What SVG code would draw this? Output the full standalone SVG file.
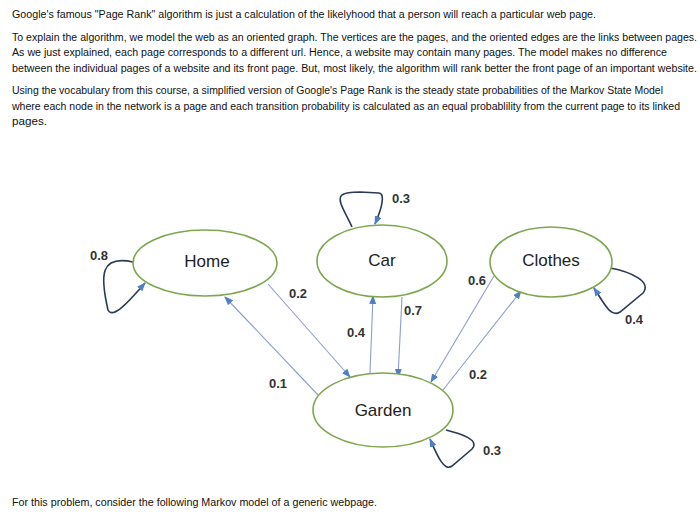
<svg xmlns="http://www.w3.org/2000/svg" width="700" height="515" viewBox="0 0 700 515">
<style>
.p{font-family:"Liberation Sans",Arial,sans-serif;font-size:10px;fill:#111}
.n{fill:#fff;stroke:#7ea64f;stroke-width:1.6}
.nt{font-family:"Liberation Sans",Arial,sans-serif;font-size:17px;fill:#222;text-anchor:middle}
.lb{font-family:"Liberation Sans",Arial,sans-serif;font-size:13px;font-weight:bold;fill:#333;text-anchor:middle}
.e{fill:none;stroke:#8e9dcb;stroke-width:1.1;marker-end:url(#a)}
.l{fill:none;stroke:#2b3a55;stroke-width:1.6;marker-end:url(#a)}
</style>
<defs>
<marker id="a" markerUnits="userSpaceOnUse" markerWidth="9" markerHeight="7" refX="8" refY="3.5" orient="auto">
<path d="M0,0 L9,3.5 L0,7 z" fill="#4f7fc4"/>
</marker>
</defs>
<rect width="700" height="515" fill="#fff"/>
<g id="text">
<text class="p" x="12" y="18" textLength="584" lengthAdjust="spacingAndGlyphs">Google's famous "Page Rank" algorithm is just a calculation of the likelyhood that a person will reach a particular web page.</text>
<text class="p" x="12" y="41" textLength="685" lengthAdjust="spacingAndGlyphs">To explain the algorithm, we model the web as an oriented graph. The vertices are the pages, and the oriented edges are the links between pages.</text>
<text class="p" x="12" y="56" textLength="655" lengthAdjust="spacingAndGlyphs">As we just explained, each page corresponds to a different url. Hence, a website may contain many pages. The model makes no difference</text>
<text class="p" x="12" y="72" textLength="685" lengthAdjust="spacingAndGlyphs">between the individual pages of a website and its front page. But, most likely, the algorithm will rank better the front page of an important website.</text>
<text class="p" x="12" y="94" textLength="651" lengthAdjust="spacingAndGlyphs">Using the vocabulary from this course, a simplified version of Google's Page Rank is the steady state probabilities of the Markov State Model</text>
<text class="p" x="12" y="110" textLength="668" lengthAdjust="spacingAndGlyphs">where each node in the network is a page and each transition probability is calculated as an equal probablility from the current page to its linked</text>
<text class="p" x="12" y="125" textLength="35" lengthAdjust="spacingAndGlyphs">pages.</text>
<text class="p" x="12" y="506" textLength="365" lengthAdjust="spacingAndGlyphs">For this problem, consider the following Markov model of a generic webpage.</text>
</g>
<g id="connectors">
<path class="e" d="M318,395 L225,297"/>
<path class="e" d="M268,284 L350,377"/>
<path class="e" d="M370,373 L373,296"/>
<path class="e" d="M402,297 L398,377"/>
<path class="e" d="M494,276 L431,382"/>
<path class="e" d="M443,390 L521,291"/>
<path class="l" d="M133,262 C100,255 100,275 108,310 C113,320 130,300 145,283"/>
<path class="l" d="M352,227 C346,213 336,200 342,195 Q346,192 360,192 L379,193 C386,194 381,210 375,224"/>
<path class="l" d="M610,268 C632,272 652,282 643,293 L620,312 C611,318 605,305 594,288"/>
<path class="l" d="M446,430 C462,434 480,440 472,449 L452,466 C444,472 437,455 430,439"/>
<text class="lb" x="99" y="260">0.8</text>
<text class="lb" x="401" y="203">0.3</text>
<text class="lb" x="634" y="324">0.4</text>
<text class="lb" x="492" y="455">0.3</text>
<text class="lb" x="298" y="298">0.2</text>
<text class="lb" x="278" y="388">0.1</text>
<text class="lb" x="356" y="337">0.4</text>
<text class="lb" x="413" y="315">0.7</text>
<text class="lb" x="477" y="285">0.6</text>
<text class="lb" x="478" y="379">0.2</text>
</g>
<g id="home"><ellipse class="n" cx="205" cy="263" rx="72" ry="33"/><text class="nt" x="207" y="267">Home</text></g>
<g id="car"><ellipse class="n" cx="382" cy="261" rx="65" ry="36"/><text class="nt" x="382" y="266">Car</text></g>
<g id="clothes"><ellipse class="n" cx="551" cy="262" rx="61" ry="35"/><text class="nt" x="551" y="266">Clothes</text></g>
<g id="garden"><ellipse class="n" cx="383" cy="410" rx="70" ry="37"/><text class="nt" x="383" y="416">Garden</text></g>
</svg>
